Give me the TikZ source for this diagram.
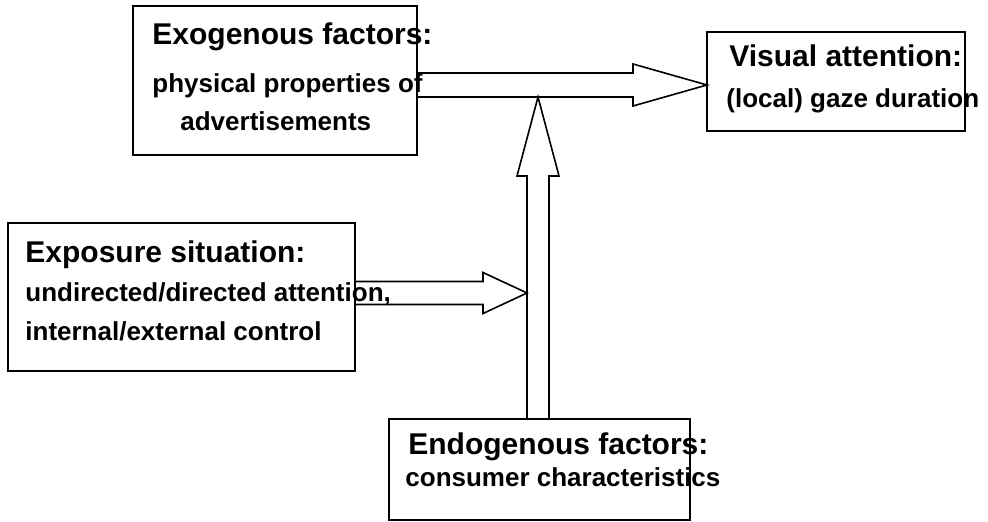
\documentclass[tikz,border=0pt]{standalone}
\usepackage{fontspec}
\setmainfont{Liberation Sans}
\usetikzlibrary{calc}
\tikzset{
  box/.style={draw, line width=0.8pt, inner sep=0pt},
  title/.style={anchor=base west, inner sep=0pt, font=\bfseries\fontsize{15}{17}\selectfont},
  detail/.style={anchor=base west, inner sep=0pt, font=\bfseries\fontsize{13}{15}\selectfont},
  fat/.style={draw, line width=0.8pt, line join=miter}
}
\begin{document}
\begin{tikzpicture}[x=0.5pt,y=-0.5pt]
\useasboundingbox (0,0) rectangle (988,522);
%
\node[box, minimum width=142pt, minimum height=74.5pt] (exo) at (275,80.5) {};
\node[box, minimum width=129pt, minimum height=49.5pt] (vis) at (836,81.5) {};
\node[box, minimum width=173.5pt, minimum height=74pt] (expo) at (181.5,297) {};
\node[box, minimum width=150.5pt, minimum height=50.5pt] (endo) at (539.5,469.5) {};
%
\node[title] (exoT) at (152,45) {Exogenous factors:};
\node[detail] (exoA) at (152,93) {physical properties of};
\node[detail] (exoB) at (180,131) {advertisements};
\node[title] (visT) at (729,67) {Visual attention:};
\node[detail] (visA) at (726,108) {(local) gaze duration};
\node[title] (expoT) at (25,263) {Exposure situation:};
\node[detail] (expoA) at (25,302) {undirected/directed attention,};
\node[detail] (expoB) at (25,341) {internal/external control};
\node[title] (endoT) at (408,455) {Endogenous factors:};
\node[detail] (endoA) at (405,487) {consumer characteristics};
%
\coordinate (a1s) at (417,85);
\coordinate (a1e) at (707,85);
\coordinate (a2s) at (355,293);
\coordinate (a2e) at (527,293);
\coordinate (a3s) at (538,419);
\coordinate (a3e) at (538,97);
%
\draw[fat] ($(a1s)+(0,-12)$) -- ($(a1e)+(-74,-12)$) -- ($(a1e)+(-74,-21)$) -- (a1e)
  -- ($(a1e)+(-74,21)$) -- ($(a1e)+(-74,12)$) -- ($(a1s)+(0,12)$);
\draw[fat] ($(a2s)+(0,-11.5)$) -- ($(a2e)+(-44,-11.5)$) -- ($(a2e)+(-44,-20.5)$) -- (a2e)
  -- ($(a2e)+(-44,20.5)$) -- ($(a2e)+(-44,11.5)$) -- ($(a2s)+(0,11.5)$);
\draw[fat] ($(a3s)+(-11,0)$) -- ($(a3e)+(-11,79)$) -- ($(a3e)+(-21,79)$) -- (a3e)
  -- ($(a3e)+(21,79)$) -- ($(a3e)+(11,79)$) -- ($(a3s)+(11,0)$);
%
\end{tikzpicture}
\end{document}
